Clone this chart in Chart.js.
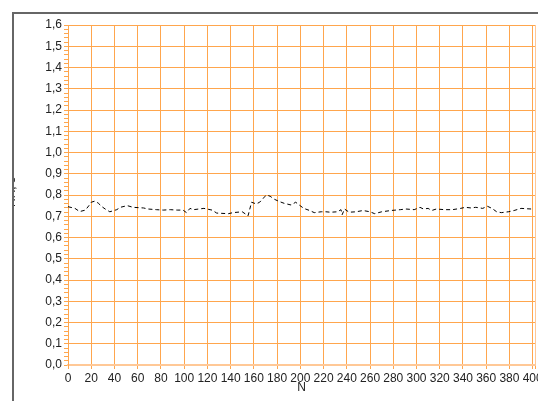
<!DOCTYPE html>
<html>
<head>
<meta charset="utf-8">
<script src="https://cdn.jsdelivr.net/npm/chart.js@4.4.0/dist/chart.umd.min.js"></script>
<style>
    html, body { margin: 0; padding: 0; background: #fff; }
    #wrap { position: relative; width: 538px; height: 401px; }
</style>
</head>
<body>
<div id="wrap"><canvas id="rrChart" width="538" height="401"></canvas></div>
<script>
//<![CDATA[

let nValues = [
    0, 6, 10, 15, 18, 20, 23, 26, 29, 32, 36, 42, 45, 51, 56, 65, 69, 76, 82, 88,
    94, 99, 102, 105, 108, 117, 124, 128, 138, 142, 150, 155, 158, 162, 165, 168, 171, 174, 178, 182,
    186, 192, 196, 199, 203, 208, 212, 218, 222, 226, 232, 235, 236, 238, 242, 248, 254, 260, 264, 270,
    278, 286, 291, 298, 303, 306, 310, 313, 317, 324, 331, 338, 342, 347, 351, 357, 361, 365, 369, 373,
    379, 384, 390, 399
];
let rrValues = [
    0.745, 0.737, 0.722, 0.729, 0.750, 0.766, 0.771, 0.762, 0.746, 0.734, 0.721, 0.731, 0.742, 0.750, 0.742, 0.739, 0.734, 0.731, 0.729, 0.731,
    0.729, 0.729, 0.717, 0.737, 0.731, 0.737, 0.729, 0.715, 0.712, 0.717, 0.721, 0.702, 0.766, 0.758, 0.766, 0.785, 0.800, 0.794, 0.779, 0.769,
    0.761, 0.753, 0.766, 0.753, 0.737, 0.727, 0.717, 0.721, 0.721, 0.719, 0.721, 0.731, 0.707, 0.734, 0.719, 0.721, 0.727, 0.721, 0.712, 0.721,
    0.727, 0.731, 0.734, 0.731, 0.742, 0.734, 0.737, 0.727, 0.734, 0.731, 0.731, 0.737, 0.742, 0.739, 0.742, 0.737, 0.747, 0.737, 0.721, 0.717,
    0.721, 0.727, 0.737, 0.734
];
let xTickValues = [
    0, 20, 40, 60, 80, 100, 120, 140, 160, 180, 200,
    220, 240, 260, 280, 300, 320, 340, 360, 380, 400, 402
];
let xTitle = 'N';
let yTitle = 'RR, s';

let gridOrange = 'rgba(255, 166, 77, 1)';

function isMajor(v) {
    return Math.abs(v * 10 - Math.round(v * 10)) < 1e-6;
}

// frame + clipped y title
const framePlugin = {
    id: 'frame',
    afterDraw(chart) {
        const ctx = chart.ctx;
        ctx.save();
        ctx.translate(12, 192);
        ctx.rotate(-Math.PI / 2);
        ctx.font = '12px "Liberation Sans", Arial, sans-serif';
        ctx.fillStyle = '#222';
        ctx.textAlign = 'center';
        ctx.textBaseline = 'middle';
        ctx.fillText(yTitle, 0, 0);
        ctx.restore();

        ctx.save();
        ctx.fillStyle = '#fff';
        ctx.fillRect(0, 0, 12, chart.height);
        ctx.fillRect(0, 0, chart.width, 12);
        ctx.strokeStyle = '#666';
        ctx.lineWidth = 2;
        ctx.beginPath();
        ctx.moveTo(13, chart.height);
        ctx.lineTo(13, 13);
        ctx.lineTo(chart.width, 13);
        ctx.stroke();
        ctx.restore();
    }
};

const ctx = document.getElementById('rrChart');
const rrChart = new Chart(ctx, {
    type: 'line',
    data: {
        datasets: [
            {
                label: yTitle,
                data: nValues.map((n, i) => ({ x: n, y: rrValues[i] })),
                borderColor: '#000',
                borderWidth: 1,
                borderDash: [4, 3],
                pointRadius: 0,
                tension: 0,
                fill: false
            }
        ]
    },
    options: {
        responsive: false,
        animation: false,
        layout: {
            padding: { top: 25, right: 3, bottom: 0, left: 0 }
        },
        plugins: {
            legend: { display: false },
            tooltip: { enabled: false }
        },
        scales: {
            x: {
                type: 'linear',
                min: 0,
                max: 402,
                afterBuildTicks: (axis) => {
                    axis.ticks = xTickValues.map(v => ({ value: v }));
                },
                afterFit: (axis) => { axis.height = 36; },
                ticks: {
                    autoSkip: false,
                    maxRotation: 0,
                    padding: 2,
                    color: '#222',
                    font: { family: '"Liberation Sans", Arial, sans-serif', size: 12 },
                    callback: (v) => (v % 20 === 0 ? String(v) : '')
                },
                grid: {
                    color: (c) => (c.tick && c.tick.value % 20 === 0 ? gridOrange : 'rgba(255, 200, 150, 1)'),
                    tickColor: gridOrange,
                    tickLength: 4,
                    lineWidth: 1
                },
                border: { color: 'rgba(255, 200, 150, 1)', width: 2 },
                title: {
                    display: true,
                    text: xTitle,
                    color: '#222',
                    font: { family: '"Liberation Sans", Arial, sans-serif', size: 12 },
                    padding: { top: 0, bottom: 6 }
                }
            },
            y: {
                min: 0,
                max: 1.6,
                afterFit: (axis) => { axis.width = 68; },
                ticks: {
                    stepSize: 0.02,
                    autoSkip: false,
                    padding: 2,
                    color: '#222',
                    font: { family: '"Liberation Sans", Arial, sans-serif', size: 12 },
                    callback: (v) => (isMajor(v) ? v.toFixed(1).replace('.', ',') : '')
                },
                grid: {
                    color: (c) => (c.tick && isMajor(c.tick.value) ? gridOrange : 'rgba(0,0,0,0)'),
                    tickColor: gridOrange,
                    tickLength: 4,
                    lineWidth: 1
                },
                border: { color: gridOrange, width: 1 }
            }
        }
    },
    plugins: [framePlugin]
});

// ]]>
</script>
</body>
</html>
